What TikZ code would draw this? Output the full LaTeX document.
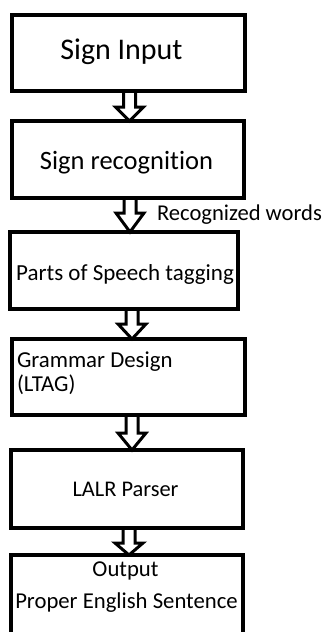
\documentclass[tikz,border=0pt]{standalone}
\usepackage{fontspec}
\setmainfont{Carlito}[Ligatures=NoCommon]
\usetikzlibrary{calc,backgrounds}
\tikzset{
  box/.style={draw, rectangle, line width=4.5pt, inner sep=0pt, outer sep=0pt},
  blockarrow/.style={draw, fill=white, line width=3pt, line join=miter},
  lbl/.style={inner sep=0pt, outer sep=0pt, text=black},
}
\newcommand\blockarr[4]{%
  \draw[blockarrow] let \p1=(#1.south), \p2=(#2.north) in
    ({#3pt-6pt},\y1) -- ({#3pt-6pt},{\y2+#4pt}) -- ({#3pt-14pt},{\y2+#4pt})
    -- ({#3pt},\y2) -- ({#3pt+14pt},{\y2+#4pt}) -- ({#3pt+6pt},{\y2+#4pt})
    -- ({#3pt+6pt},\y1) -- cycle;}
\begin{document}
\begin{tikzpicture}[x=1pt,y=-1pt]
  \useasboundingbox (0,0) rectangle (323,632);
  \clip (0,0) rectangle (323,632);
  % boxes
  \node[box, minimum width=233pt, minimum height=76pt] (b1) at (128.5,53) {};
  \node[box, minimum width=232pt, minimum height=77pt] (b2) at (128,159.5) {};
  \node[box, minimum width=228pt, minimum height=77pt] (b3) at (124,270.5) {};
  \node[box, minimum width=233pt, minimum height=76pt] (b4) at (128.5,377) {};
  \node[box, minimum width=232pt, minimum height=78pt] (b5) at (127,489) {};
  \node[box, minimum width=232pt, minimum height=145pt] (b6) at (127,627.5) {};
  % texts
  \node[lbl, font=\fontsize{30}{36}\selectfont, anchor=base] (t1) at (121.5,59) {Sign Input};
  \node[lbl, font=\fontsize{26.5}{32}\selectfont, anchor=base] (t2) at (126.5,169) {Sign recognition};
  \node[lbl, font=\fontsize{22.6}{27}\selectfont, anchor=base west] (t3) at (157,220) {Recognized words};
  \node[lbl, font=\fontsize{23}{28}\selectfont, anchor=base] (t4) at (125,280) {Parts of Speech tagging};
  \node[lbl, font=\fontsize{22.8}{27}\selectfont, anchor=base west] (t5a) at (17,367) {Grammar Design};
  \node[lbl, font=\fontsize{22.8}{27}\selectfont, anchor=base west] (t5b) at (17,391) {(LTAG)};
  \node[lbl, font=\fontsize{22.4}{27}\selectfont, anchor=base] (t6) at (125.5,496) {LALR Parser};
  \node[lbl, font=\fontsize{22.7}{27}\selectfont, anchor=base] (t7a) at (125.5,576) {Output};
  \node[lbl, font=\fontsize{22.7}{27}\selectfont, anchor=base] (t7b) at (126.5,608) {Proper English Sentence};
  % arrows
  \begin{scope}[on background layer]
    \blockarr{b1}{b2}{129.5}{14}
    \blockarr{b2}{b3}{130}{19}
    \blockarr{b3}{b4}{132}{15}
    \blockarr{b4}{b5}{132}{17}
    \blockarr{b5}{b6}{129}{12}
  \end{scope}
\end{tikzpicture}
\end{document}
